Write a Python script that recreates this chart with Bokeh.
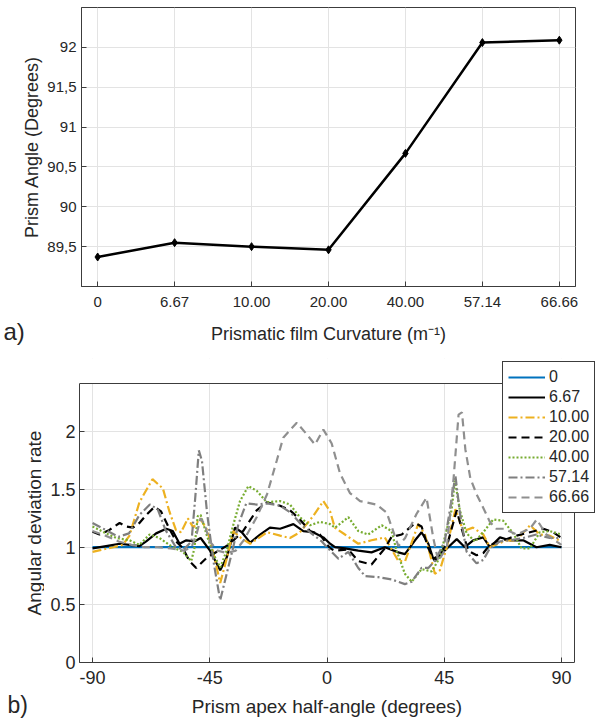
import math
from bokeh.plotting import figure
from bokeh.models import (BoxAnnotation, FixedTicker, Label, Legend, LegendItem, Range1d)
from bokeh.layouts import column, row
from bokeh.embed import file_html
from bokeh.resources import INLINE

# ---------------- data: panel a ----------------
curvature_labels = ["0", "6.67", "10.00", "20.00", "40.00", "57.14", "66.66"]
prism_angle = [89.37, 89.55, 89.50, 89.46, 90.67, 92.06, 92.09]
angle_ticks = [89.5, 90, 90.5, 91, 91.5, 92]
angle_tick_labels = ["89,5", "90", "90,5", "91", "91,5", "92"]

# ---------------- data: panel b ----------------
half_angle_ticks = [-90, -45, 0, 45, 90]
half_angle_tick_labels = ["-90", "-45", "0", "45", "90"]
rate_ticks = [0, 0.5, 1, 1.5, 2]
rate_tick_labels = ["0", "0.5", "1", "1.5", "2"]

x_0 = [-90, 90]
y_0 = [1.0, 1.0]

x_667 = [-90, -84.8, -79.6, -75.8, -72, -69.4, -65.6, -61.7, -59.2, -56.6, -54, -50.9, -48.5, -44.9, -41,
         -38.5, -35.3, -32.7, -29.5, -25.7, -21.9, -18, -12.9, -9.1, -5.3, -1.4, 1.2, 3.1, 6.9, 12, 17.1,
         22.2, 27.4, 29.9, 33.8, 36.3, 38.9, 40.8, 43.3, 46.5, 49.8, 52.9, 56.1, 60, 62.5, 66.4, 70.2,
         75.3, 80.4, 85.5, 90]
y_667 = [0.99, 1.01, 1.03, 1.02, 1.01, 1.05, 1.12, 1.16, 1.14, 1.03, 1.06, 1.05, 1.08, 0.97, 0.80,
         0.91, 1.17, 1.13, 1.04, 1.11, 1.17, 1.16, 1.20, 1.14, 1.13, 1.085, 1.03, 1.0, 0.99, 0.97, 0.955,
         1.0, 0.955, 0.94, 1.06, 1.13, 1.03, 0.90, 0.93, 1.0, 1.07, 1.0, 1.06, 1.085, 1.0, 1.085, 1.06,
         1.06, 1.0, 1.02, 1.0]

x_10 = [-90, -82, -78.4, -75.8, -72, -67, -63, -60.5, -58, -56, -53.4, -51.3, -48.7, -46, -43.6,
        -41, -38.5, -36, -33, -29.5, -23, -18, -14.2, -10.4, -5.3, -1.4, 1.2, 3, 6.9, 12,
        17.1, 22.2, 27.4, 30, 35, 37.6, 41.4, 43.3, 46, 49.3, 52.3, 56, 60, 62.5, 68.9,
        72.7, 77.9, 81.7, 85.5, 90]
y_10 = [0.96, 1.0, 1.02, 1.1, 1.39, 1.59, 1.51, 1.31, 1.15, 1.13, 1.25, 1.17, 1.25, 1.15, 0.95,
        0.69, 0.9, 1.14, 1.08, 1.03, 1.13, 1.1, 1.08, 1.13, 1.27, 1.40, 1.31, 1.17, 1.11, 1.03,
        1.06, 1.085, 0.88, 0.88, 1.2, 1.11, 0.77, 0.8, 1.0, 1.33, 1.14, 1.17, 1.11, 1.0, 1.06,
        1.06, 1.19, 1.11, 1.1, 1.05]

x_20 = [-90, -87.3, -83.5, -79.6, -77.1, -74.5, -72, -69.4, -66.2, -63.7, -60.5, -57.9, -55.3, -52.8,
        -50.2, -46.1, -42.3, -37.2, -32.2, -27, -23.1, -18, -14.2, -10.4, -6.5, -2.7, 1.2, 3.1, 8.2,
        12, 17.1, 22.2, 24.8, 28.7, 33.8, 36.3, 38.9, 41.4, 43.3, 46.5, 49.8, 51.7, 54.2, 57.4, 60,
        62.5, 67.6, 72.8, 77.9, 83, 86.8, 90]
y_20 = [1.135, 1.11, 1.15, 1.21, 1.18, 1.17, 1.21, 1.28, 1.35, 1.31, 1.16, 1.05, 0.99, 0.88,
        0.82, 0.91, 0.96, 1.03, 1.14, 1.32, 1.39, 1.36, 1.32, 1.24, 1.14, 1.11, 0.99, 0.97, 0.98,
        0.88, 0.85, 0.99, 1.09, 1.11, 1.21, 1.18, 0.99, 0.88, 0.94, 1.05, 1.32, 1.16, 0.97, 0.93, 0.95,
        1.02, 1.06, 1.1, 1.13, 1.16, 1.13, 1.08]

x_40 = [-90, -84.8, -80.9, -75.8, -72, -68.1, -64.3, -59.2, -55.3, -52.1, -50.9, -49.6, -48.5, -46.1,
        -43.6, -41, -38.5, -35.9, -33.4, -30.2, -27, -23.1, -18, -14.2, -10.4, -6.5, -2.7, 1.2, 3.1,
        8.2, 12, 15.8, 21, 24.8, 26.7, 29.9, 32.5, 36.3, 40.2, 43.3, 47.8, 49.1, 51, 53.6, 56.8, 60,
        63.8, 67.6, 71.5, 74.7, 77.9, 81.7, 85.5, 90]
y_40 = [1.18, 1.12, 1.08, 1.06, 1.02, 1.11, 1.08, 1.0, 0.96, 0.88, 0.99, 1.27, 1.28, 1.1,
        0.94, 0.825, 0.97, 1.2, 1.40, 1.53, 1.49, 1.39, 1.40, 1.37, 1.26, 1.19, 1.22, 1.2, 1.17,
        1.26, 1.14, 1.11, 1.19, 1.14, 0.97, 0.77, 0.70, 0.81, 0.79, 0.91, 1.32, 1.58, 1.32, 1.12, 1.05,
        1.13, 1.24, 1.23, 1.12, 0.99, 0.99, 1.13, 1.14, 1.11]

x_5714 = [-90, -85, -80, -76, -72, -68, -65, -62, -58, -55, -52, -50.5, -49.2, -48, -46, -43.6, -41,
          -38.5, -36, -34, -31, -27, -23, -18, -14, -10, -6, -2, 0, 2.2, 4.4, 8.2, 12, 14.6, 19.7,
          24.8, 29.9, 32.5, 36.3, 38.9, 41.4, 45.2, 49.3, 51, 53.6, 57.4, 60, 62.5, 66.4, 70.2,
          75.3, 80.4, 85.5, 90]
y_5714 = [1.21, 1.15, 1.09, 1.12, 1.28, 1.37, 1.33, 1.15, 1.0, 0.98, 1.05, 1.45, 1.84, 1.75, 1.29,
          0.88, 0.54, 0.77, 1.0, 1.2, 1.38, 1.37, 1.38, 1.36, 1.3, 1.2, 1.12, 1.05, 1.0, 0.95, 0.9,
          0.96, 0.82, 0.75, 0.74, 0.72, 0.68, 0.70, 0.82, 0.82, 0.88, 1.05, 1.62, 1.3, 0.96, 0.86,
          0.89, 0.99, 1.05, 1.06, 1.08, 1.11, 1.08, 1.08]

x_6666 = [-90, -85, -80, -75, -70, -65, -60, -55, -52, -50, -48.5, -47, -45, -42, -38.5, -35, -32,
          -27, -23, -19.3, -16.8, -11.6, -7.8, -4.6, -1.4, 1.8, 5, 8.8, 12.7, 19, 22.9, 25.4, 27.4,
          30, 34.4, 38.2, 40.8, 42.7, 46, 48.6, 50.5, 51.8, 53.1, 55, 57.4, 60, 62.5, 65, 68, 72.8,
          77.9, 80.5, 84.2, 90]
y_6666 = [1.14, 1.1, 1.05, 1.02, 1.0, 1.0, 0.99, 0.97, 1.0, 1.12, 1.25, 1.2, 1.05, 0.97, 0.95,
          0.97, 1.06, 1.26, 1.46, 1.75, 1.95, 2.08, 1.98, 1.89, 2.02, 1.9, 1.64, 1.47, 1.40, 1.37,
          1.3, 1.14, 1.01, 1.08, 1.29, 1.43, 1.08, 0.88, 1.0, 1.6, 2.15, 2.17, 1.85, 1.6, 1.46, 1.34,
          1.22, 1.16, 1.16, 1.11, 1.16, 1.24, 1.11, 1.02]

series_labels = ["0", "6.67", "10.00", "20.00", "40.00", "57.14", "66.66"]

FONT = "Liberation Sans"
TXT = "#262626"
BOX = "#3c3c3c"
GRID = "#e3e3e3"
STRIP_W = 44
TOTAL_W = 595
TOTAL_H = 718


def style(p, tick_size):
    p.background_fill_color = "white"
    p.border_fill_color = "white"
    for ax in (p.xaxis[0], p.yaxis[0]):
        ax.axis_line_color = BOX
        ax.major_tick_in = 5
        ax.major_tick_out = 0
        ax.major_tick_line_color = BOX
        ax.minor_tick_line_color = None
        ax.major_label_text_font = FONT
        ax.major_label_text_font_size = tick_size
        ax.major_label_text_color = TXT
    for g in (p.xgrid[0], p.ygrid[0]):
        g.grid_line_color = GRID
        g.grid_line_width = 1


def text_fig(width, frame_h, top=0, bottom=0):
    # plain text carrier; data units are pixels of its frame
    t = figure(frame_width=width, frame_height=frame_h, min_border_left=0, min_border_right=0,
               min_border_top=top, min_border_bottom=bottom,
               x_range=Range1d(0, width), y_range=Range1d(0, frame_h),
               x_axis_type=None, y_axis_type=None, output_backend="svg", toolbar_location=None)
    t.background_fill_color = "white"
    t.border_fill_color = "white"
    t.outline_line_color = None
    return t


def txt(text, x, y, size, **kw):
    return Label(x=x, y=y, text=text, text_font=FONT, text_font_size=size, text_color=TXT, **kw)


# ---------------- panel a ----------------
P1_TOP, P1_FH, P1_BOT = 7, 279, 28
cat_pos = list(range(len(curvature_labels)))
p1 = figure(frame_width=494, frame_height=P1_FH, min_border_left=81 - STRIP_W, min_border_right=20,
            min_border_top=P1_TOP, min_border_bottom=P1_BOT,
            x_range=Range1d(-0.21, len(curvature_labels) - 1 + 0.21), y_range=Range1d(89.0, 92.5),
            output_backend="svg", toolbar_location=None)
style(p1, "15px")
p1.outline_line_color = BOX
p1.outline_line_alpha = 1
p1.xaxis.ticker = FixedTicker(ticks=cat_pos)
p1.xaxis.major_label_overrides = {i: s for i, s in zip(cat_pos, curvature_labels)}
p1.yaxis.ticker = FixedTicker(ticks=angle_ticks)
p1.yaxis.major_label_overrides = {t: s for t, s in zip(angle_ticks, angle_tick_labels)}
p1.xgrid.ticker = FixedTicker(ticks=cat_pos)
p1.ygrid.ticker = FixedTicker(ticks=angle_ticks)
p1.xaxis.major_label_standoff = 10
p1.yaxis.major_label_standoff = 5
p1.line(cat_pos, prism_angle, line_color="black", line_width=2.5)
p1.scatter(cat_pos, prism_angle, marker="diamond", size=8, fill_color="black", line_color="black")

strip_a = text_fig(STRIP_W, P1_FH, P1_TOP, P1_BOT)
strip_a.add_layout(txt("Prism Angle (Degrees)", 31, P1_FH / 2, "18px", angle=math.pi / 2,
                       text_align="center", text_baseline="middle"))

p1_h = P1_TOP + P1_FH + P1_BOT          # 314
foot_a_h = 345 - p1_h                   # 31
foot_a = text_fig(TOTAL_W, foot_a_h)
foot_a.add_layout(txt("Prismatic film Curvature (m\u207b\u00b9)", 328, foot_a_h - (333.5 - p1_h), "18px",
                      text_align="center", text_baseline="middle"))
foot_a.add_layout(txt("a)", 3, foot_a_h - (331 - p1_h), "24px", text_baseline="middle"))

# ---------------- panel b ----------------
# Frame is larger than the drawn box so that the legend may stick out above/right of the box.
BOX_X = (-95, 95)
BOX_Y = (0, 2.42)
box_w, box_h = 495, 279
P2_TOP, P2_FH, P2_BOT = 13, 304, 29
frame_w = TOTAL_W - 79
x_end = BOX_X[0] + (BOX_X[1] - BOX_X[0]) * frame_w / box_w
y_end = BOX_Y[0] + (BOX_Y[1] - BOX_Y[0]) * P2_FH / box_h
p2 = figure(frame_width=frame_w, frame_height=P2_FH, min_border_left=79 - STRIP_W,
            min_border_right=0, min_border_top=P2_TOP, min_border_bottom=P2_BOT,
            x_range=Range1d(BOX_X[0], x_end), y_range=Range1d(BOX_Y[0], y_end),
            output_backend="svg", toolbar_location=None)
style(p2, "18px")
p2.outline_line_color = None
p2.xaxis.bounds = BOX_X
p2.yaxis.bounds = BOX_Y
p2.xaxis.ticker = FixedTicker(ticks=half_angle_ticks)
p2.xaxis.major_label_overrides = {t: s for t, s in zip(half_angle_ticks, half_angle_tick_labels)}
p2.yaxis.ticker = FixedTicker(ticks=rate_ticks)
p2.yaxis.major_label_overrides = {t: s for t, s in zip(rate_ticks, rate_tick_labels)}
p2.xgrid.ticker = FixedTicker(ticks=half_angle_ticks)
p2.ygrid.ticker = FixedTicker(ticks=rate_ticks)
p2.xaxis.major_label_standoff = 8
p2.yaxis.major_label_standoff = 4

r0 = p2.line(x_0, y_0, line_color="#0072BD", line_width=2.2)
r1 = p2.line(x_667, y_667, line_color="black", line_width=2.2)
r2 = p2.line(x_10, y_10, line_color="#EDB120", line_width=2.2, line_dash="9 3 2 3")
r3 = p2.line(x_20, y_20, line_color="black", line_width=2.2, line_dash="8 5")
r4 = p2.line(x_40, y_40, line_color="#77AC30", line_width=2.2, line_dash="2 2")
r5 = p2.line(x_5714, y_5714, line_color="#7f7f7f", line_width=2.2, line_dash="9 3 2 3")
r6 = p2.line(x_6666, y_6666, line_color="#8f8f8f", line_width=2.2, line_dash="8 5")

# white masks outside the drawn box, then the box itself
p2.add_layout(BoxAnnotation(left=BOX_X[1], fill_color="white", fill_alpha=1, line_color=None))
p2.add_layout(BoxAnnotation(bottom=BOX_Y[1], fill_color="white", fill_alpha=1, line_color=None))
p2.add_layout(BoxAnnotation(left=BOX_X[0], right=BOX_X[1], bottom=BOX_Y[0], top=BOX_Y[1],
                            fill_alpha=0, line_color=BOX, line_width=1, line_alpha=1))

legend = Legend(items=[LegendItem(label=lab, renderers=[r]) for lab, r in
                       zip(series_labels, [r0, r1, r2, r3, r4, r5, r6])],
                location=(502 - 79, 149))
legend.label_text_font = FONT
legend.label_text_font_size = "16px"
legend.label_text_color = TXT
legend.border_line_color = BOX
legend.border_line_width = 1
legend.border_line_alpha = 1
legend.background_fill_color = "white"
legend.background_fill_alpha = 1
legend.padding = 5
legend.spacing = 0
legend.margin = 0
legend.label_height = 20
legend.glyph_height = 20
legend.glyph_width = 37
legend.label_standoff = 4
p2.add_layout(legend)

strip_b = text_fig(STRIP_W, P2_FH, P2_TOP, P2_BOT)
strip_b.add_layout(txt("Angular deviation rate", 34, 662 - 522.5, "19px", angle=math.pi / 2,
                       text_align="center", text_baseline="middle"))

p2_h = P2_TOP + P2_FH + P2_BOT          # 346
foot_b_top = 345 + p2_h                 # 691
foot_b_h = TOTAL_H - foot_b_top         # 27
foot_b = text_fig(TOTAL_W, foot_b_h)
foot_b.add_layout(txt("Prism apex half-angle (degrees)", 326.5, foot_b_h - (706 - foot_b_top), "19px",
                      text_align="center", text_baseline="middle"))
foot_b.add_layout(txt("b)", 7, foot_b_h - (704.5 - foot_b_top), "23px", text_baseline="middle"))

layout = column(row(strip_a, p1, spacing=0), foot_a, row(strip_b, p2, spacing=0), foot_b, spacing=0)
open("out.html", "w").write(file_html(layout, INLINE))
